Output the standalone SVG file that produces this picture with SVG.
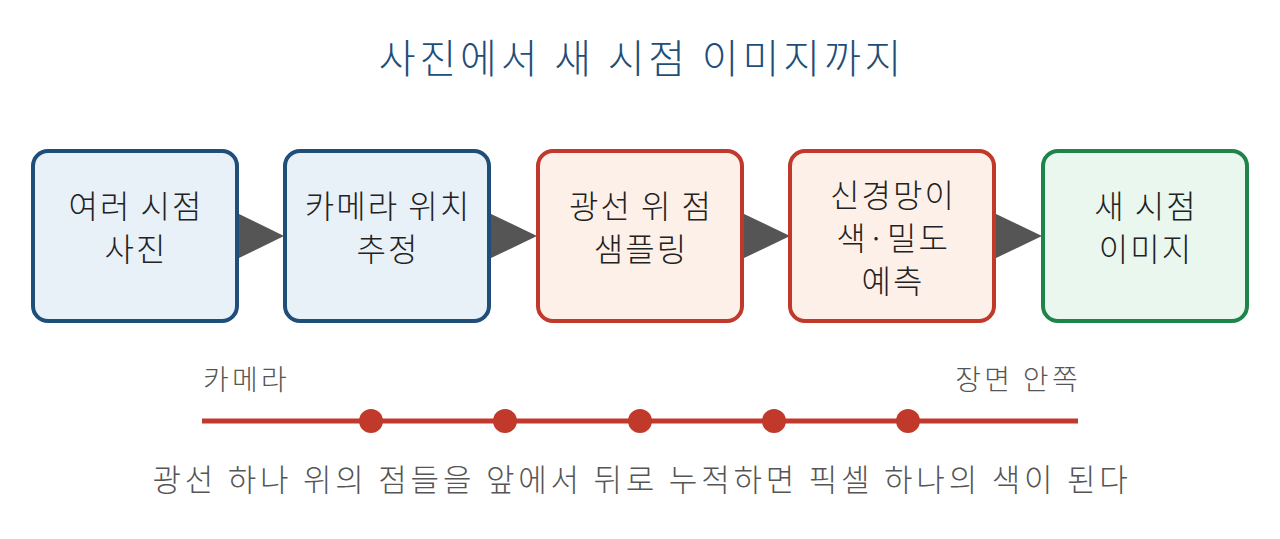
<svg xmlns="http://www.w3.org/2000/svg" width="1280" height="539" viewBox="0 0 1280 539">
<style>
text{font-family:"Noto Sans CJK KR","Noto Sans",sans-serif;font-weight:300}
.c{text-anchor:middle}
.t{font-size:40px;fill:#1f4e79;letter-spacing:3.9px}
.box{stroke-width:4}
.blue{fill:#e8f0f8;stroke:#1f4e79}
.red{fill:#fdf0e8;stroke:#c0392b}
.green{fill:#e9f7ee;stroke:#1e8449}
.lbl{font-size:32px;fill:#222;letter-spacing:2px}
.small{font-size:28px;fill:#555;letter-spacing:3.3px}
.cap{font-size:31px;fill:#555;letter-spacing:3.8px}
.arr{fill:#555}
</style>
<rect width="1280" height="539" fill="#fff"/>
<text class="t c" x="642" y="73">사진에서 새 시점 이미지까지</text>
<g id="connectors">
<polygon class="arr" points="237,213 284,236 237,259"/>
<polygon class="arr" points="489,213 537,236 489,259"/>
<polygon class="arr" points="742,213 790,236 742,259"/>
<polygon class="arr" points="994,213 1042,236 994,259"/>
</g>
<g id="n1"><rect class="box blue" x="33" y="151" width="204" height="170" rx="15"/>
<text class="lbl c" x="136" y="218">여러 시점</text><text class="lbl c" x="136" y="261">사진</text></g>
<g id="n2"><rect class="box blue" x="285" y="151" width="204" height="170" rx="15"/>
<text class="lbl c" x="388" y="218">카메라 위치</text><text class="lbl c" x="388" y="261">추정</text></g>
<g id="n3"><rect class="box red" x="538" y="151" width="204" height="170" rx="15"/>
<text class="lbl c" x="641" y="218">광선 위 점</text><text class="lbl c" x="641" y="261">샘플링</text></g>
<g id="n4"><rect class="box red" x="790" y="151" width="204" height="170" rx="15"/>
<text class="lbl c" x="893" y="207">신경망이</text><text class="lbl c" x="893" y="250">색·밀도</text><text class="lbl c" x="893" y="293">예측</text></g>
<g id="n5"><rect class="box green" x="1043" y="151" width="204" height="170" rx="15"/>
<text class="lbl c" x="1146" y="218">새 시점</text><text class="lbl c" x="1146" y="261">이미지</text></g>
<g id="ray">
<line x1="202" y1="421" x2="1078" y2="421" stroke="#c0392b" stroke-width="5"/>
<g fill="#c0392b">
<circle cx="371" cy="421" r="12"/><circle cx="505" cy="421" r="12"/><circle cx="640" cy="421" r="12"/><circle cx="774" cy="421" r="12"/><circle cx="908" cy="421" r="12"/>
</g>
<text class="small" x="203" y="390" text-anchor="start">카메라</text>
<text class="small" x="1081" y="390" text-anchor="end">장면 안쪽</text>
</g>
<text class="cap c" x="642" y="491">광선 하나 위의 점들을 앞에서 뒤로 누적하면 픽셀 하나의 색이 된다</text>
</svg>
